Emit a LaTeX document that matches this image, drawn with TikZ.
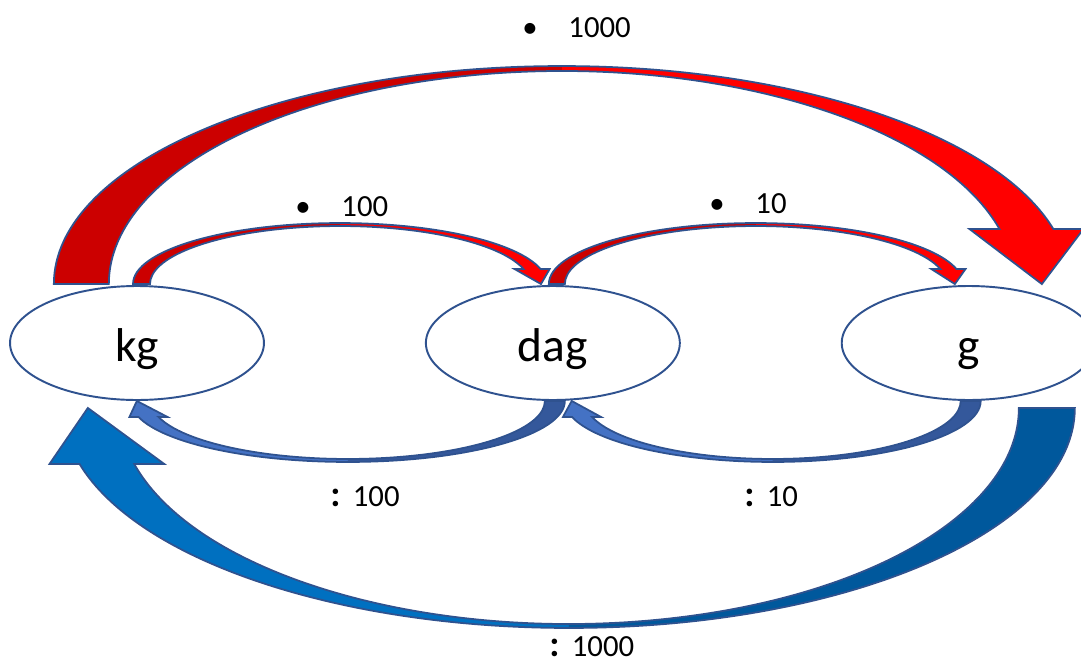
\documentclass[tikz,border=0pt]{standalone}
\usepackage{fontspec}
\setmainfont{Carlito}
\usepackage{tikz}
\usetikzlibrary{positioning, calc, shapes.geometric, backgrounds}
\definecolor{linkline}{RGB}{47,82,143}
\definecolor{deepred}{RGB}{204,0,0}
\definecolor{brightred}{RGB}{255,0,0}
\definecolor{deepblue}{RGB}{0,88,156}
\definecolor{brightblue}{RGB}{0,112,192}
\definecolor{slateblue}{RGB}{52,88,155}
\definecolor{softblue}{RGB}{68,114,196}
\tikzset{
unit/.style = { ellipse, draw = linkline, fill = white, line width = 1.1pt, minimum width = 5.08cm, minimum height = 2.28cm, inner sep = 0pt, text height = 21.5pt, text depth = 0pt, font = \fontsize{27}{32}\selectfont },
factor/.style = { anchor = west, inner sep = 0pt, font = \fontsize{17.5}{21}\selectfont },
}
\tikzset{
pics/band arrow/.style args={#1, #2, #3, #4, #5, #6, #7, #8, #9}{
        code = {
        % #1, #2 outer radii, #3 tail width, #4 apex width, #5 neck height, #6 wing, #7 tip
        \pgfmathsetmacro\angout{asin(#5/#2)}
        \pgfmathsetmacro\angin{asin(#5/(#2-#4))}
        \pgfmathsetmacro\radin{#1-#3}
        \pgfmathsetmacro\htin{#2-#4}
        \pgfmathsetmacro\neckin{(#1-#3)*cos(\angin)}
        \path[save path=\bandpath] (-#1, 0) arc[start angle=180, end angle=\angout, x radius=#1, y radius=#2]
            -- ++(#6, 0) -- (#7, 0) -- (\neckin-#6, #5) -- (\neckin, #5)
            arc[start angle=\angin, end angle=180, x radius=\radin, y radius=\htin] -- cycle;
        \fill[#9, use path=\bandpath];
        \fill[#8] (-#1, 0) arc[start angle=180, end angle=90, x radius=#1, y radius=#2]
            -- (0, \htin) arc[start angle=90, end angle=180, x radius=\radin, y radius=\htin] -- cycle;
        \draw[linkline, line width=1pt, use path=\bandpath];
        }
    }
}
\begin{document}
\begin{tikzpicture}[x=0.02cm, y=0.02cm]
    \useasboundingbox (0, 0) rectangle (1081, -666);
    \node[unit] (kg) at (137, -343) {kg};
    \node[unit, right=3.2cm of kg] (dag) {dag};
    \node[unit, right=3.2cm of dag] (g) {g};
    \begin{scope}[on background layer]
      \pic at ($(kg.north)!0.5!(g.north)+(9, 1)$) {band arrow={508, 218, 55, 5, 55, 30, 480, deepred, brightred}};
      \pic at ($(kg.north)+(203, 1)$) {band arrow={207, 61, 17, 3, 15, 9, 201, deepred, brightred}};
      \pic at ($(dag.north)+(203, 1)$) {band arrow={207, 61, 16, 3, 15, 9, 199, deepred, brightred}};
      \pic[rotate=180] at ($(kg.south)!0.5!(g.south)+(16, -7)$) {band arrow={506, 220, 56, 4, 56, 30, 481, deepblue, brightblue}};
      \pic[rotate=180] at ($(dag.south)+(-205, 0)$) {band arrow={217, 61, 20, 3, 16, 9, 211, slateblue, softblue}};
      \pic[rotate=180] at ($(g.south)+(-196, 0)$) {band arrow={208, 61, 20, 3, 16, 9, 201, slateblue, softblue}};
    \end{scope}
    \node[factor] (times1000) at (522, -28) {\textbullet\quad 1000};
    \node[factor] (times100) at (295, -207) {\textbullet\quad 100};
    \node[factor] (times10) at (709, -204) {\textbullet\quad 10};
    \node[factor] (div100) at (330, -497) {\textbf{\scalebox{1.2}{:}}\hspace{0.4em}100};
    \node[factor] (div10) at (744, -497) {\textbf{\scalebox{1.2}{:}}\hspace{0.4em}10};
    \node[factor] (div1000) at (549, -647) {\textbf{\scalebox{1.2}{:}}\hspace{0.4em}1000};
\end{tikzpicture}
\end{document}
